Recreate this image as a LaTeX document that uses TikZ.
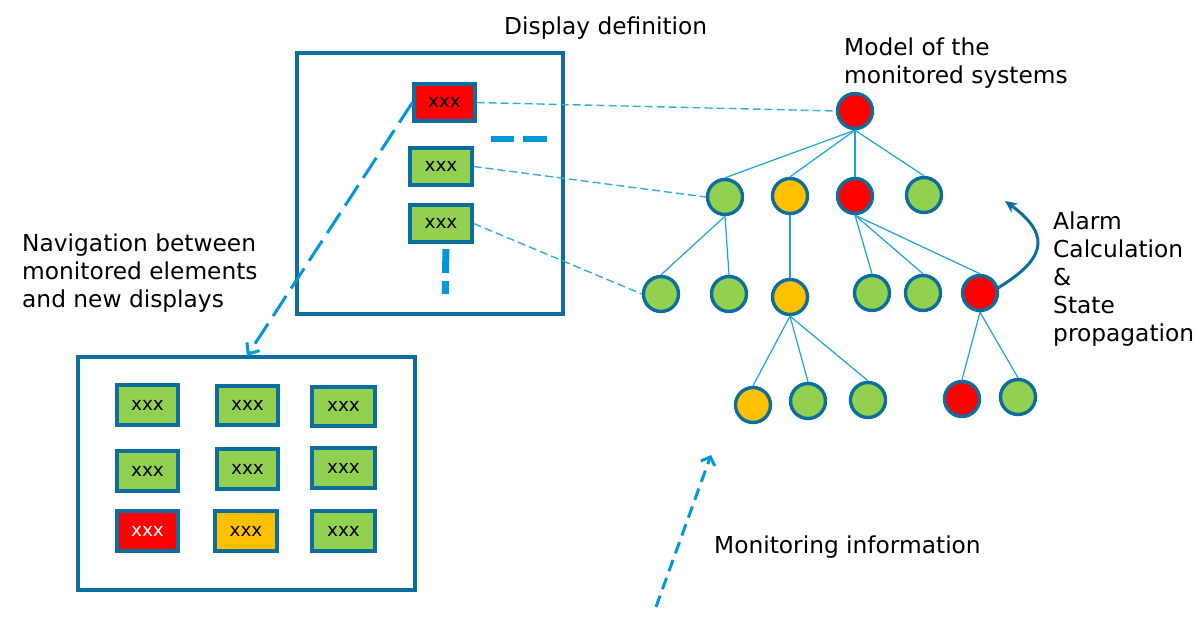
\documentclass[tikz,border=0pt]{standalone}
\usepackage{fontspec}
\setmainfont{DejaVu Sans}
\usetikzlibrary{arrows.meta}
\definecolor{bord}{HTML}{0B6E9E}
\definecolor{edge}{HTML}{1BA1E2}
\definecolor{dsh}{HTML}{0098DA}
\definecolor{gr}{HTML}{92D050}
\definecolor{rd}{HTML}{FF0000}
\definecolor{og}{HTML}{FFC000}
\tikzset{
  frame/.style={draw=bord, line width=3.2pt},
  xbox/.style={draw=bord, line width=3.2pt, minimum width=59pt, minimum height=37pt, inner sep=0pt, font=\fontsize{18.5}{20}\selectfont},
  gbox/.style={xbox, fill=gr},
  rbox/.style={xbox, fill=rd},
  obox/.style={xbox, fill=og},
  circ/.style={circle, draw=bord, line width=3.4pt, minimum size=35pt, inner sep=0pt},
  gc/.style={circ, fill=gr},
  rc/.style={circ, fill=rd},
  oc/.style={circ, fill=og},
  tedge/.style={draw=edge, line width=1.2pt},
  thindash/.style={draw=dsh!80, line width=1.4pt, dash pattern=on 8pt off 4pt},
  lbl/.style={font=\fontsize{23.3}{28}\selectfont, inner sep=0pt, align=left},
}
\begin{document}
\begin{tikzpicture}[x=1pt,y=-1pt]
\useasboundingbox (0,0) rectangle (1199,631);
% frames
\draw[frame] (297,53) rectangle (563,314);
\draw[frame] (78,357) rectangle (415,590);
% labels
\node[lbl, anchor=west] (ldisp) at (504,28) {Display definition};
\node[lbl, anchor=north west] (lmodel) at (844,38) {Model of the\\monitored systems};
\node[lbl, anchor=north west] (lnav) at (22,234) {Navigation between\\monitored elements\\and new displays};
\node[lbl, anchor=north west] (lalarm) at (1053,212) {Alarm\\Calculation\\\&\\State\\propagation};
\node[lbl, anchor=west] (lmon) at (714,547) {Monitoring information};
% display boxes
\node[rbox, minimum width=61pt] (d1) at (444.5,102.5) {xxx};
\node[gbox, minimum width=62pt] (d2) at (441,166.5) {xxx};
\node[gbox, minimum width=62pt] (d3) at (441,223.5) {xxx};
% ellipsis dashes
\draw[dsh, line width=6pt] (491,139) -- (514,139);
\draw[dsh, line width=6pt] (523,139) -- (547,139);
\draw[dsh, line width=7pt] (446,249) -- (445.5,273);
\draw[dsh, line width=7pt] (445.5,281) -- (445.3,294);
% grid boxes
\node[gbox, minimum width=61pt, minimum height=40pt] (g11) at (147.5,405) {xxx};
\node[gbox, minimum width=61pt, minimum height=39pt] (g12) at (247.5,405.5) {xxx};
\node[gbox, minimum width=63pt, minimum height=39pt] (g13) at (343.5,406.5) {xxx};
\node[gbox, minimum width=61pt, minimum height=40pt] (g21) at (147.5,471) {xxx};
\node[gbox, minimum width=61pt, minimum height=40pt] (g22) at (247.5,469) {xxx};
\node[gbox, minimum width=63pt, minimum height=40pt] (g23) at (343.5,468) {xxx};
\node[rbox, minimum width=61pt, minimum height=40pt, text=white] (g31) at (147.5,531) {xxx};
\node[obox, minimum width=62pt, minimum height=40pt] (g32) at (246,531) {xxx};
\node[gbox, minimum width=63pt, minimum height=40pt] (g33) at (343.5,531) {xxx};
% tree nodes
\node[rc] (root) at (855,111) {};
\node[gc] (a1) at (725,197) {};
\node[oc] (a2) at (790,196) {};
\node[rc] (a3) at (855,196) {};
\node[gc] (a4) at (924,195) {};
\node[gc] (b1) at (661,294) {};
\node[gc] (b2) at (729,294) {};
\node[oc] (b3) at (790,297) {};
\node[gc] (b4) at (872,293) {};
\node[gc] (b5) at (923,293) {};
\node[rc] (b6) at (980,293) {};
\node[oc] (c1) at (753,405) {};
\node[gc] (c2) at (808,401) {};
\node[gc] (c3) at (868,400) {};
\node[rc] (c4) at (962,399) {};
\node[gc] (c5) at (1018,397) {};
% tree edges
\foreach \s/\t in {root/a1,root/a2,root/a3,root/a4,a1/b1,a1/b2,a2/b3,a3/b4,a3/b5,a3/b6,b3/c1,b3/c2,b3/c3,b6/c4,b6/c5}
  \draw[tedge] (\s.south) -- (\t.north);
% thin dashed links
\draw[thindash] (d1.east) -- (root.west);
\draw[thindash] (d2.east) -- (a1.west);
\draw[thindash] (d3.east) -- (b1.west);
% navigation arrow
\coordinate (navend) at (247,356);
\draw[dsh, line width=3pt, dash pattern=on 24pt off 9pt, -{Straight Barb[length=9pt,width=15pt,line width=3pt]}] (d1.west) -- (navend);
% monitoring arrow
\coordinate (mons) at (656,607);
\coordinate (mone) at (711,455);
\draw[dsh, line width=3pt, dash pattern=on 12pt off 7pt, -{Straight Barb[length=7pt,width=15pt,line width=3pt]}] (mons) -- (mone);
% alarm curved arrow
\coordinate (alarmstart) at (998,288);
\coordinate (alarmend) at (1005,201);
\draw[bord, line width=3pt, -{Stealth[length=12pt,width=11pt]}] (alarmstart) .. controls (1040,262) and (1056,238) .. (alarmend);
\end{tikzpicture}
\end{document}
